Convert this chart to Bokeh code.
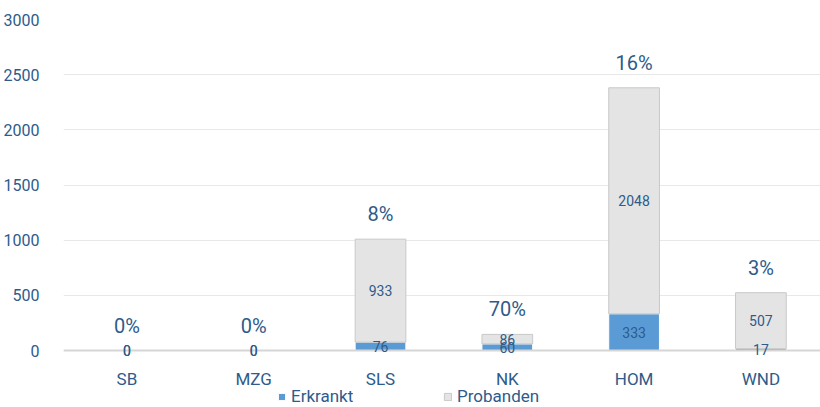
from bokeh.plotting import figure
from bokeh.models import ColumnDataSource, FixedTicker, Range1d, Legend, LegendItem
from bokeh.core.properties import value
from bokeh.embed import file_html
from bokeh.resources import INLINE

categories = ["SB", "MZG", "SLS", "NK", "HOM", "WND"]
erkrankt = [0, 0, 76, 60, 333, 17]
probanden = [0, 0, 933, 86, 2048, 507]
percent_labels = ["0%", "0%", "8%", "70%", "16%", "3%"]
y_ticks = [0, 500, 1000, 1500, 2000, 2500, 3000]

BLUE = "#5B9BD5"
GREY = "#E4E4E4"
GREY_LINE = "#C9C9C9"
TEXT = "#2E5B8A"
FONT = "Roboto"

xs = list(range(len(categories)))
totals = [e + q for e, q in zip(erkrankt, probanden)]
src = ColumnDataSource(dict(
    x=xs, cat=categories, erk=erkrankt, prob=probanden, total=totals,
    pct=percent_labels,
    erk_mid=[e / 2 for e in erkrankt],
    prob_mid=[e + q / 2 for e, q in zip(erkrankt, probanden)],
    erk_txt=[str(v) for v in erkrankt],
    prob_txt=[str(v) for v in probanden],
    cat_y=[-254] * len(categories),
))

p = figure(width=820, height=407, output_backend="svg", toolbar_location=None,
           x_range=Range1d(-0.5, 5.47), y_range=Range1d(-516.6, 3000),
           min_border_top=19, min_border_bottom=0, min_border_left=63, min_border_right=0)
p.outline_line_color = None
p.xaxis.visible = False
p.xgrid.visible = False
p.ygrid.grid_line_color = "#E8E8E8"
p.ygrid.grid_line_width = 1
yax = p.yaxis[0]
yax.ticker = FixedTicker(ticks=y_ticks)
yax.axis_line_color = None
yax.major_tick_line_color = None
yax.minor_tick_line_color = None
yax.major_label_standoff = 18
yax.major_label_text_font = FONT
yax.major_label_text_font_size = "16px"
yax.major_label_text_color = TEXT

r_erk = p.vbar(x="x", bottom=0, top="erk", width=0.4, source=src,
               fill_color=BLUE, line_color="white", line_width=1)
r_prob = p.vbar(x="x", bottom="erk", top="total", width=0.4, source=src,
                fill_color=GREY, line_color=GREY_LINE, line_width=1)

p.hspan(y=[0], line_color="#D6D6D6", line_width=2)

p.text(x="x", y="erk_mid", text="erk_txt", source=src, text_align="center",
       text_baseline="middle", text_font=value(FONT), text_font_size="14px", text_color=TEXT)
p.text(x="x", y="prob_mid", text="prob_txt", source=src, text_align="center",
       text_baseline="middle", text_font=value(FONT), text_font_size="14px", text_color=TEXT)
p.text(x="x", y="total", text="pct", source=src, text_align="center", y_offset=-25,
       text_baseline="middle", text_font=value(FONT), text_font_size="20px", text_color=TEXT)
p.text(x="x", y="cat_y", text="cat", source=src, text_align="center",
       text_baseline="middle", text_font=value(FONT), text_font_size="17px", text_color=TEXT)

legend = Legend(items=[LegendItem(label="Erkrankt", renderers=[r_erk]),
                       LegendItem(label="Probanden", renderers=[r_prob])],
                orientation="horizontal", location=(214, 1),
                glyph_width=9, glyph_height=9, label_height=16, label_width=152,
                label_standoff=5, spacing=0, padding=0, margin=0,
                border_line_color=None, background_fill_alpha=0,
                label_text_font=FONT, label_text_font_size="17px", label_text_color=TEXT)
p.add_layout(legend)

open("out.html", "w").write(file_html(p, INLINE))
